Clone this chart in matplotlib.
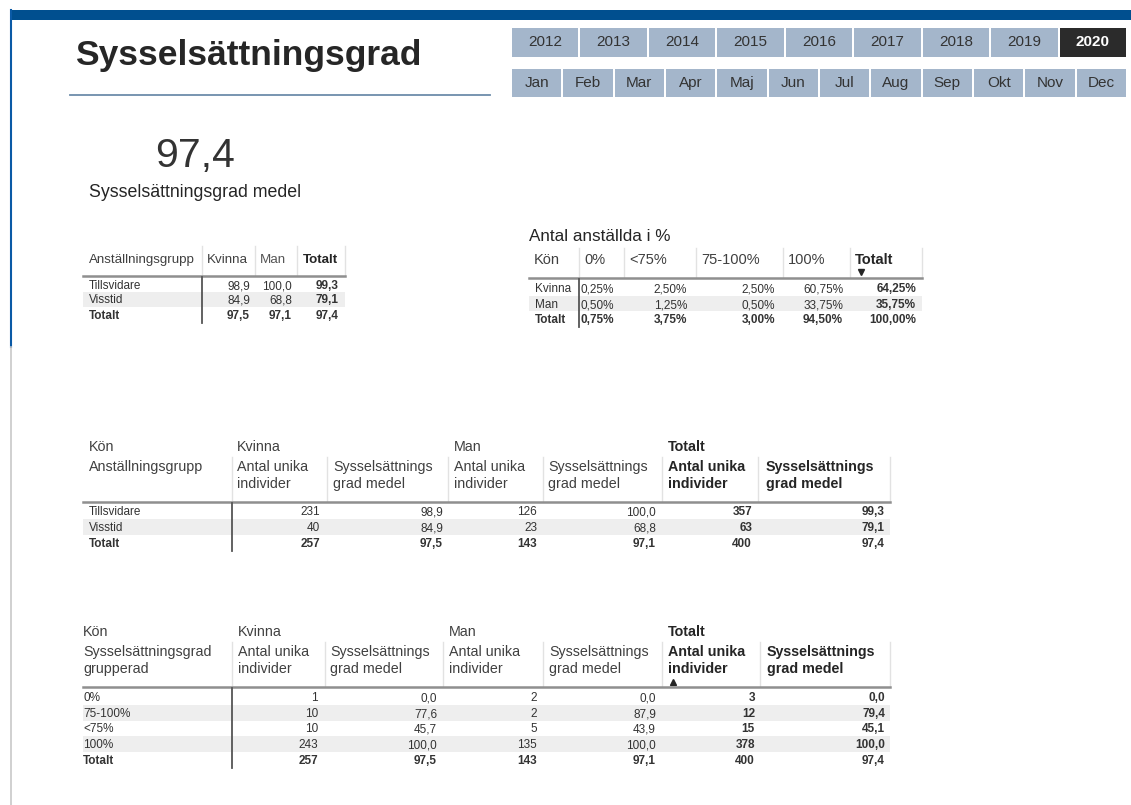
import matplotlib.pyplot as plt
from matplotlib.patches import Rectangle

plt.rcParams['font.family'] = ['Liberation Sans', 'DejaVu Sans']

years = ['2012', '2013', '2014', '2015', '2016', '2017', '2018', '2019', '2020']
selected_year = '2020'
months = ['Jan', 'Feb', 'Mar', 'Apr', 'Maj', 'Jun', 'Jul', 'Aug', 'Sep', 'Okt', 'Nov', 'Dec']

kpi_value = 97.4
kpi_label = 'Sysselsättningsgrad medel'

# table 1: grad per anställningsgrupp
t1_groups = ['Tillsvidare', 'Visstid', 'Totalt']
t1_kvinna = [98.9, 84.9, 97.5]
t1_man = [100.0, 68.8, 97.1]
t1_total = [99.3, 79.1, 97.4]

# table 2: antal anställda i %
t2_kon = ['Kvinna', 'Man', 'Totalt']
t2_cols = ['0%', '<75%', '75-100%', '100%', 'Totalt']
t2_kvinna = [0.25, 2.50, 2.50, 60.75, 64.25]
t2_man = [0.50, 1.25, 0.50, 33.75, 35.75]
t2_totalt = [0.75, 3.75, 3.00, 94.50, 100.00]

# table 3: per anställningsgrupp och kön
t3_groups = ['Tillsvidare', 'Visstid', 'Totalt']
t3_kvinna_n = [231, 40, 257]
t3_kvinna_grad = [98.9, 84.9, 97.5]
t3_man_n = [126, 23, 143]
t3_man_grad = [100.0, 68.8, 97.1]
t3_tot_n = [357, 63, 400]
t3_tot_grad = [99.3, 79.1, 97.4]

# table 4: per grupperad grad och kön
t4_groups = ['0%', '75-100%', '<75%', '100%', 'Totalt']
t4_kvinna_n = [1, 10, 10, 243, 257]
t4_kvinna_grad = [0.0, 77.6, 45.7, 100.0, 97.5]
t4_man_n = [2, 2, 5, 135, 143]
t4_man_grad = [0.0, 87.9, 43.9, 100.0, 97.1]
t4_tot_n = [3, 12, 15, 378, 400]
t4_tot_grad = [0.0, 79.4, 45.1, 100.0, 97.4]

BLUE = '#004f8f'
TXT = '#333333'
HDR = '#404040'
BAND = '#eeeeee'
SEP = '#e2e2e2'
ROWFS = 8.5


def f1(v):
    return f"{v:.1f}".replace('.', ',')


def fpct(v):
    return f"{v:.2f}%".replace('.', ',')


def cell(x, y, s, bold=False, ha='left'):
    # row text sits on a baseline so labels and numbers line up
    ax.text(x, y + 4, s, fontsize=ROWFS, va='baseline', ha=ha, color=TXT,
            fontweight='bold' if bold else 'normal')


fig = plt.figure(figsize=(11.31, 8.05), dpi=100)
ax = fig.add_axes([0, 0, 1, 1])
ax.set_xlim(0, 1131)
ax.set_ylim(805, 0)
ax.axis('off')

# frame
ax.add_patch(Rectangle((10, 10), 1121, 10, color=BLUE, lw=0))
ax.plot([10.5, 10.5], [10, 347], color='#0a5aa6', lw=1.5)
ax.plot([10.5, 10.5], [347, 805], color='#c8c8c8', lw=1.2)

# title
ax.text(75, 55, 'Sysselsättningsgrad', fontsize=25.5, fontweight='bold', color='#262626', va='center')
ax.plot([70, 490], [95.5, 95.5], color='#6d8caa', lw=1.3)

# slicers
yw = 616 / len(years)
for i, y in enumerate(years):
    sel = y == selected_year
    ax.add_patch(Rectangle((512 + i * yw, 28), yw - 2, 29, color='#2b2b2b' if sel else '#a4b6cb', lw=0))
    ax.text(512 + i * yw + (yw - 2) / 2, 42.5, y, fontsize=11, ha='center', va='center',
            color='white' if sel else TXT, fontweight='bold' if sel else 'normal')
mw = 616 / len(months)
for i, m in enumerate(months):
    ax.add_patch(Rectangle((512 + i * mw, 69), mw - 2, 28, color='#a4b6cb', lw=0))
    ax.text(512 + i * mw + (mw - 2) / 2, 83, m, fontsize=11, ha='center', va='center', color=TXT)

# KPI card
ax.text(195, 156, f1(kpi_value), fontsize=29.5, ha='center', va='center', color='#333333')
ax.text(195, 192, kpi_label, fontsize=12.8, ha='center', va='center', color='#252525')


def header_seps(xs, y0, y1):
    for x in xs:
        ax.plot([x, x], [y0, y1], color=SEP, lw=1)


def body(x0, x1, line_y, vline_x, row_ys, row_h, bands, bottom):
    ax.plot([x0, x1], [line_y, line_y], color='#8f8f8f', lw=1.8)
    for r in bands:
        ax.add_patch(Rectangle((x0, row_ys[r] - row_h / 2), x1 - x0, row_h, color=BAND, lw=0, zorder=0))
    ax.plot([vline_x, vline_x], [line_y + 1, bottom], color='#555555', lw=1.3)


# table 1
header_seps([202, 255, 297, 345], 246, 275)
ax.text(89, 260, 'Anställningsgrupp', fontsize=9.6, va='center', color=HDR)
ax.text(207, 260, 'Kvinna', fontsize=9.6, va='center', color=HDR)
ax.text(260, 260, 'Man', fontsize=9.6, va='center', color='#555555')
ax.text(303, 260, 'Totalt', fontsize=9.6, va='center', color='#252525', fontweight='bold')
t1_y = [285, 299, 315]
body(83, 345, 276, 201.5, t1_y, 15, [1], 323)
for i, g in enumerate(t1_groups):
    b = g == 'Totalt'
    cell(89, t1_y[i], g, b)
    cell(250, t1_y[i], f1(t1_kvinna[i]), b, 'right')
    cell(292, t1_y[i], f1(t1_man[i]), b, 'right')
    cell(339, t1_y[i], f1(t1_total[i]), True, 'right')

# table 2
ax.text(529, 236, 'Antal anställda i %', fontsize=12.3, va='center', color='#252525')
t2_x = [579, 624, 696, 783, 850]
t2_r = [614, 687, 775, 843, 916]
header_seps(t2_x + [922], 248, 277)
ax.text(534, 260, 'Kön', fontsize=10.5, va='center', color=HDR)
for j, c in enumerate(t2_cols):
    bold = c == 'Totalt'
    ax.text(t2_x[j] + 5, 260, c, fontsize=10.5, va='center', color='#252525' if bold else HDR,
            fontweight='bold' if bold else 'normal')
ax.plot([861], [272.5], marker='v', ms=5, color='#252525')
t2_y = [288, 304, 319]
body(529, 922, 278, 579, t2_y, 15, [1], 327)
for i, (k, vals) in enumerate(zip(t2_kon, [t2_kvinna, t2_man, t2_totalt])):
    b = k == 'Totalt'
    cell(535, t2_y[i], k, b)
    for j, v in enumerate(vals):
        cell(t2_r[j], t2_y[i], fpct(v), b or j == 4, 'right')


def matrix(top, left_label, label_x, kv_x, man_x, tot_x, seps, line_y, row_ys, groups, cols, rights, bands, arrow=None):
    ax.text(label_x, top, 'Kön', fontsize=10.3, va='center', color=HDR)
    for k, t in enumerate(left_label):
        ax.text(label_x, top + 20 + 17 * k, t, fontsize=10.3, va='center', color=HDR)
    ax.text(kv_x[0], top, 'Kvinna', fontsize=10.3, va='center', color=HDR)
    ax.text(man_x[0], top, 'Man', fontsize=10.3, va='center', color=HDR)
    ax.text(tot_x[0], top, 'Totalt', fontsize=10.3, va='center', color='#252525', fontweight='bold')
    for xs, w in [(kv_x, 'normal'), (man_x, 'normal'), (tot_x, 'bold')]:
        c = HDR if w == 'normal' else '#252525'
        ax.text(xs[0], top + 20, 'Antal unika', fontsize=10.3, va='center', color=c, fontweight=w)
        ax.text(xs[0], top + 37, 'individer', fontsize=10.3, va='center', color=c, fontweight=w)
        ax.text(xs[1], top + 20, 'Sysselsättnings', fontsize=10.3, va='center', color=c, fontweight=w)
        ax.text(xs[1], top + 37, 'grad medel', fontsize=10.3, va='center', color=c, fontweight=w)
    header_seps(seps, top + 10, line_y - 1)
    if arrow:
        ax.plot([arrow[0]], [arrow[1]], marker='^', ms=5, color='#252525')
    body(83, 890, line_y, 231.5, row_ys, 15.5, bands, row_ys[-1] + 8)
    for i, g in enumerate(groups):
        b = g == 'Totalt'
        cell(label_x, row_ys[i], g, b)
        for j, vals in enumerate(cols):
            s = f1(vals[i]) if j % 2 else str(vals[i])
            cell(rights[j], row_ys[i], s, b or j >= 4, 'right')


# table 3
matrix(447, ['Anställningsgrupp'], 89, (237, 333), (454, 548), (668, 766),
       [232, 327, 448, 543, 662, 758, 890], 502, [511, 527, 543], t3_groups,
       [t3_kvinna_n, t3_kvinna_grad, t3_man_n, t3_man_grad, t3_tot_n, t3_tot_grad],
       [320, 443, 537, 656, 752, 885], [1])

# table 4
matrix(632, ['Sysselsättningsgrad', 'grupperad'], 83, (238, 330), (449, 549), (668, 767),
       [232, 325, 443, 543, 662, 760, 890], 687, [697, 713, 728, 744, 760], t4_groups,
       [t4_kvinna_n, t4_kvinna_grad, t4_man_n, t4_man_grad, t4_tot_n, t4_tot_grad],
       [318, 437, 537, 656, 755, 885], [1, 3], arrow=(673, 682))

fig.savefig('out.png', dpi=100, facecolor='white')
